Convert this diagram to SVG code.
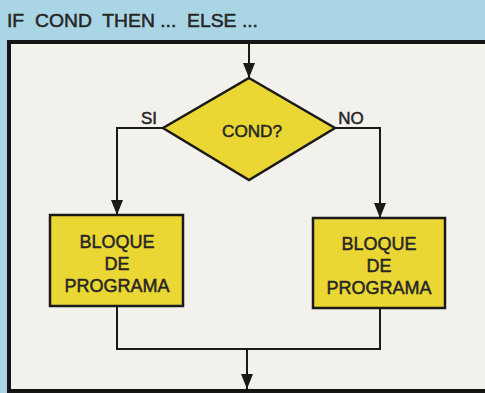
<svg xmlns="http://www.w3.org/2000/svg" width="485" height="393" viewBox="0 0 485 393">
<style>
.t{font-family:"Liberation Sans",Arial,sans-serif;fill:#262626;stroke:#262626;stroke-width:0.5;}
.node{fill:#ebd733;stroke:#1a1a1a;stroke-width:2.5;stroke-linejoin:miter;}
.ln{fill:none;stroke:#1a1a1a;stroke-width:2;}
</style>
<defs>
<marker id="a" markerUnits="userSpaceOnUse" markerWidth="16" markerHeight="12" refX="15" refY="6" orient="auto" viewBox="0 0 16 12">
<path d="M0,0 L15,6 L0,12 Z" fill="#1a1a1a"/>
</marker>
</defs>
<rect x="0" y="0" width="485" height="393" fill="#aad5e5"/>
<rect x="9" y="42" width="480" height="349" fill="#f3f1ec" stroke="#151515" stroke-width="4"/>
<g id="title">
<text class="t" x="7" y="27" font-size="19" textLength="251" lengthAdjust="spacingAndGlyphs" xml:space="preserve">IF  COND  THEN ...  ELSE ...</text>
</g>
<g id="connectors">
<line class="ln" x1="249" y1="44" x2="249" y2="78" marker-end="url(#a)"/>
<polyline class="ln" points="163,128 117,128 117,215" marker-end="url(#a)"/>
<polyline class="ln" points="335,128 380,128 380,218" marker-end="url(#a)"/>
<polyline class="ln" points="117,306 117,349 380,349 380,308"/>
<line class="ln" x1="247" y1="349" x2="247" y2="389" marker-end="url(#a)"/>
</g>
<g id="cond">
<polygon class="node" points="249,78 335,128 249,180 163,128"/>
<text class="t" x="252" y="137" font-size="17" text-anchor="middle" textLength="60" lengthAdjust="spacingAndGlyphs">COND?</text>
</g>
<g id="label-si"><text class="t" x="149" y="124" font-size="17" text-anchor="middle">SI</text></g>
<g id="label-no"><text class="t" x="351" y="124" font-size="17" text-anchor="middle">NO</text></g>
<g id="bloque-si">
<rect class="node" x="50" y="215" width="133" height="91"/>
<text class="t" font-size="18" text-anchor="middle"><tspan x="117" y="248">BLOQUE</tspan><tspan x="117" y="270">DE</tspan><tspan x="117" y="292">PROGRAMA</tspan></text>
</g>
<g id="bloque-no">
<rect class="node" x="313" y="218" width="132" height="90"/>
<text class="t" font-size="18" text-anchor="middle"><tspan x="379" y="250">BLOQUE</tspan><tspan x="379" y="272">DE</tspan><tspan x="379" y="294">PROGRAMA</tspan></text>
</g>
</svg>
